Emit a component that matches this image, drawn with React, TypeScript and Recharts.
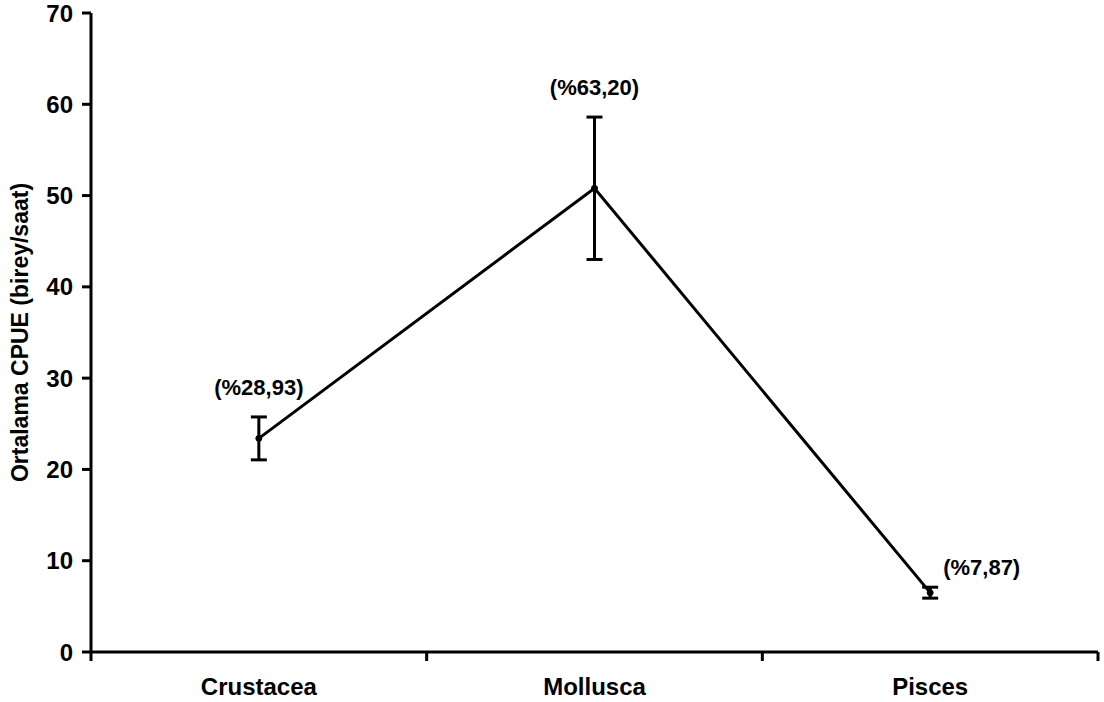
import React from "react";
import {
  LineChart,
  Line,
  XAxis,
  YAxis,
  ErrorBar,
  LabelList,
} from "recharts";

const categories = ["Crustacea", "Mollusca", "Pisces"];
const meanCpue = [23.4, 50.8, 6.5];
const errCpue = [2.35, 7.8, 0.6];
const shareLabels = ["(%28,93)", "(%63,20)", "(%7,87)"];
const yTicks = [0, 10, 20, 30, 40, 50, 60, 70];

const FONT = "'Liberation Sans', Arial, Helvetica, sans-serif";

// x as numbers so the tick marks can sit between the categories
const data = categories.map((name, i) => ({
  x: i + 0.5,
  name,
  cpue: meanCpue[i],
  err: errCpue[i],
  top: meanCpue[i] + errCpue[i],
  pct: shareLabels[i],
}));

const xTicks = [0, 0.5, 1, 1.5, 2, 2.5, 3];

function CategoryTick(props: any) {
  const { x, y, payload } = props;
  const v = payload.value as number;
  if (Number.isInteger(v)) {
    return <line x1={x} x2={x} y1={y} y2={y + 9} stroke="#000" strokeWidth={3} />;
  }
  return (
    <text
      x={x}
      y={y + 43}
      textAnchor="middle"
      fontFamily={FONT}
      fontWeight="bold"
      fontSize={24}
      fill="#000"
    >
      {categories[Math.floor(v)]}
    </text>
  );
}

function ShareLabel(props: any) {
  const { x, y, value, index } = props;
  const last = index === data.length - 1;
  return (
    <text
      x={last ? x + 13 : x}
      y={last ? y - 12 : y - 22}
      textAnchor={last ? "start" : "middle"}
      fontFamily={FONT}
      fontWeight="bold"
      fontSize={22}
      fill="#000"
    >
      {value}
    </text>
  );
}

export default function App() {
  return (
    <div style={{ position: "absolute", left: 0, top: 0, background: "#fff" }}>
      <LineChart
        width={1104}
        height={702}
        data={data}
        margin={{ top: 13, right: 6, bottom: 0, left: 0 }}
      >
        <XAxis
          dataKey="x"
          type="number"
          domain={[0, 3]}
          ticks={xTicks}
          interval={0}
          tick={<CategoryTick />}
          tickLine={false}
          tickSize={0}
          tickMargin={0}
          height={50}
          axisLine={{ stroke: "#000", strokeWidth: 3 }}
        />
        <YAxis
          domain={[0, 70]}
          ticks={yTicks}
          interval={0}
          width={91}
          tickSize={9}
          tickMargin={9}
          tick={{ fill: "#000", fontSize: 24, fontWeight: "bold", fontFamily: FONT }}
          tickLine={{ stroke: "#000", strokeWidth: 3 }}
          axisLine={{ stroke: "#000", strokeWidth: 3 }}
          label={{
            value: "Ortalama CPUE (birey/saat)",
            angle: -90,
            position: "insideLeft",
            offset: 0,
            dx: 20,
            style: {
              textAnchor: "middle",
              fill: "#000",
              fontSize: 23,
              fontFamily: FONT,
              fontWeight: "bold",
            },
          }}
        />
        <Line
          dataKey="cpue"
          stroke="#000"
          strokeWidth={3}
          dot={{ r: 3, fill: "#000", stroke: "#000", strokeWidth: 1 }}
          activeDot={false}
          isAnimationActive={false}
        >
          <ErrorBar dataKey="err" width={8} stroke="#000" strokeWidth={3} direction="y" />
        </Line>
        <Line
          dataKey="top"
          stroke="none"
          dot={false}
          activeDot={false}
          isAnimationActive={false}
        >
          <LabelList dataKey="pct" content={<ShareLabel />} />
        </Line>
      </LineChart>
    </div>
  );
}
